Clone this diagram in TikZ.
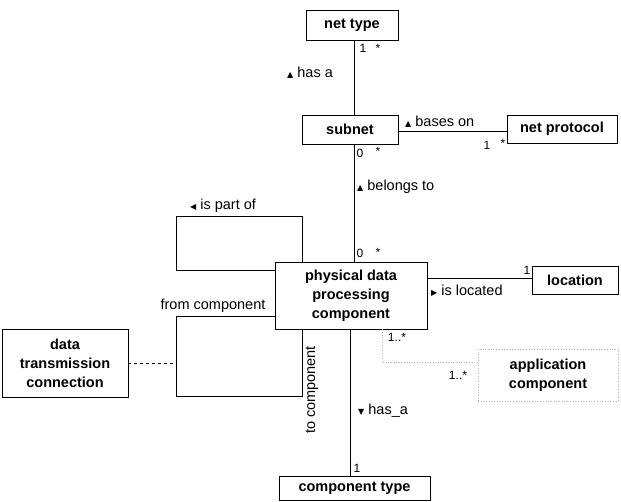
\documentclass[tikz,border=0pt]{standalone}
\usepackage{fontspec}
\setmainfont{Liberation Sans}
\newfontfamily\symfont{DejaVu Sans}
% small direction markers for association names
\newcommand\triU{{\symfont\fontsize{8}{8}\selectfont ▲}}
\newcommand\triD{{\symfont\fontsize{8}{8}\selectfont ▼}}
\newcommand\triL{{\symfont\fontsize{8}{8}\selectfont ◀}}
\newcommand\triR{{\symfont\fontsize{8}{8}\selectfont ▶}}
\begin{document}
\begin{tikzpicture}[x=1pt,y=-1pt,
  cls/.style={draw,line width=0.7pt,font=\fontsize{14.5}{19}\selectfont\bfseries,align=center,inner sep=0pt},
  lbl/.style={font=\fontsize{14.5}{17}\selectfont,inner sep=0pt,anchor=west},
  mult/.style={font=\fontsize{12}{13}\selectfont,inner sep=0pt},
  conn/.style={line width=0.7pt},
  faint/.style={draw=black!30,dotted,line width=0.6pt}]
\useasboundingbox (0,0) rectangle (621,502);

% classes
\node[cls,minimum width=92pt,minimum height=30pt] (nettype) at (352,25) {net type};
\node[cls,minimum width=96pt,minimum height=29pt] (subnet) at (350,129.5) {subnet};
\node[cls,minimum width=110pt,minimum height=28pt] (netproto) at (562,129) {net protocol};
\node[cls,minimum width=152pt,minimum height=67pt] (pdpc) at (351,295.5) {physical data\\processing\\component};
\node[cls,minimum width=86pt,minimum height=28pt] (location) at (575,280) {location};
\node[cls,faint,minimum width=140pt,minimum height=52pt] (appcomp) at (548,375) {application\\component};
\node[cls,minimum width=126pt,minimum height=68pt] (dtc) at (65,363) {data\\transmission\\connection};
\node[cls,minimum width=151pt,minimum height=24pt] (comptype) at (354.5,488.5) {component type};

% associations
\coordinate (colA) at (354,0);
\draw[conn] (nettype.south -| colA) -- (subnet.north -| colA);
\draw[conn] (subnet.south -| colA) -- (pdpc.north -| colA);
\coordinate (rowB) at (0,131);
\draw[conn] (subnet.east |- rowB) -- (netproto.west |- rowB);

% is part of (self association)
\coordinate (pl1) at (302,216);
\coordinate (pl2) at (176,270);
\draw[conn] (pdpc.north -| pl1) -- (pl1) -| (pl2) -- (pdpc.west |- pl2);

% from / to component (self association with link class)
\coordinate (fc1) at (176,316);
\coordinate (fc2) at (302,396);
\draw[conn] (pdpc.west |- fc1) -- (fc1) |- (fc2) -- (pdpc.south -| fc2);
\draw[conn,dashed] (dtc.east) -- (dtc.east -| fc1);

\coordinate (rowL) at (0,278);
\draw[conn] (pdpc.east |- rowL) -- (location.west |- rowL);

\coordinate (colC) at (350,0);
\draw[conn] (pdpc.south -| colC) -- (comptype.north -| colC);

\coordinate (ac1) at (382,362);
\draw[faint] (pdpc.south -| ac1) -- (ac1) -- (appcomp.west |- ac1);

% association names
\node[lbl] (lhasa) at (287,73) {\triU\ has a};
\node[lbl] (lbases) at (405,122) {\triU\ bases on};
\node[lbl] (lbelongs) at (357,187) {\triU\ belongs to};
\node[lbl] (lpartof) at (190,206) {\triL\ is part of};
\node[lbl,anchor=center] (lfrom) at (213,306) {from component};
\node[lbl,anchor=center,rotate=90] (lto) at (312,390) {to component};
\node[lbl] (llocated) at (431,291) {\triR\ is located};
\node[lbl] (lhasa2) at (358,411) {\triD\ has\_a};

% multiplicities
\node[mult] (m1) at (363,48) {1};
\node[mult] (m2) at (378,48) {*};
\node[mult] (m3) at (487,145) {1};
\node[mult] (m4) at (503,143) {*};
\node[mult] (m5) at (360,153) {0};
\node[mult] (m6) at (378,151) {*};
\node[mult] (m7) at (360,253) {0};
\node[mult] (m8) at (378,252) {*};
\node[mult] (m9) at (527,270) {1};
\node[mult] (m10) at (397,337) {1..*};
\node[mult] (m11) at (458,375) {1..*};
\node[mult] (m12) at (357,468) {1};
\end{tikzpicture}
\end{document}
